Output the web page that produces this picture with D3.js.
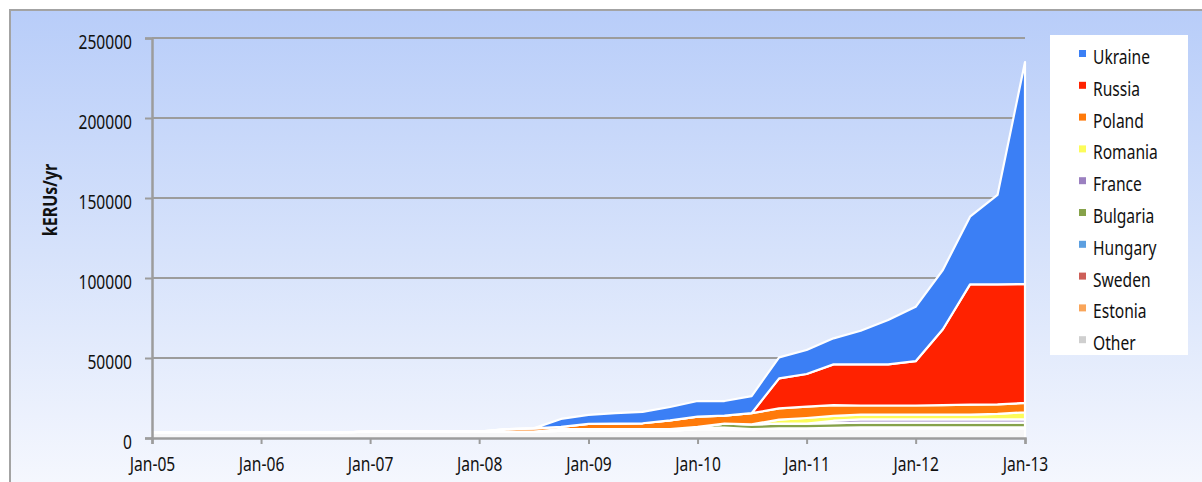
<!DOCTYPE html>
<html>
<head>
<meta charset="utf-8">
<script src="https://cdn.jsdelivr.net/npm/d3@7"></script>
<style>
  body { margin: 0; background: #fff; }
  text { font-family: "Noto Sans", "Open Sans", sans-serif; fill: #111; }
</style>
</head>
<body>
<div id="chart"></div>
<script>
// quarterly points, Jan-05 .. Jan-13 (kERUs/yr)
var yearLabels = ["Jan-05","Jan-06","Jan-07","Jan-08","Jan-09","Jan-10","Jan-11","Jan-12","Jan-13"];
var yTicks = [0, 50000, 100000, 150000, 200000, 250000];

var other    = [3500,3500,3500,3500,3500,3500,3500,3500,4000,4000,4000,4000,4000,4000,4000,4500,4500,4500,4500,4500,5500,5500,5500,6000,6000,6000,6000,6000,6000,6000,6000,6000,6000];
var estonia  = [0,0,0,0,0,0,0,0,0,0,0,0,0,0,0,0,0,0,0,0,0,0,0,0,0,300,300,300,300,300,300,300,300];
var sweden   = [0,0,0,0,0,0,0,0,0,0,0,0,0,0,0,0,0,0,0,0,0,0,0,0,0,0,300,300,300,300,300,300,300];
var hungary  = [0,0,0,0,0,0,0,0,0,0,0,0,0,0,0,1000,1000,1000,1000,1000,1000,1000,0,0,0,0,0,0,0,0,0,0,0];
var bulgaria = [0,0,0,0,0,0,0,0,0,0,0,0,0,0,0,0,0,0,0,0,500,2500,3000,3000,3000,3000,3000,3000,3000,3000,3000,3000,3000];
var france   = [0,0,0,0,0,0,0,0,0,0,0,0,0,0,0,0,0,0,0,0,0,0,0,0,0,1500,2000,2000,2000,2000,2000,2000,2000];
var romania  = [0,0,0,0,0,0,0,0,0,0,0,0,0,0,0,0,0,0,0,0,0,0,0,2500,3500,3000,3000,3000,3000,3000,3000,3500,4500];
var poland   = [0,0,0,0,0,0,0,0,0,0,0,0,0,1500,2000,1500,3300,3500,3700,5500,6400,5000,7000,7000,7100,6700,5700,5700,5700,5900,6200,5900,5800];
var russia   = [0,0,0,0,0,0,0,0,0,0,0,0,0,0,0,0,0,0,0,0,0,0,0,18800,20400,25500,25700,25700,27700,47500,75200,75000,74300];
var ukraine  = [0,0,0,0,0,0,0,0,0,0,0,0,0,0,0,4900,5700,6600,7100,8400,9700,9100,10700,13100,15000,16300,21000,27700,34000,37000,42300,55900,138800];

var legendNames = ["Ukraine","Russia","Poland","Romania","France","Bulgaria","Hungary","Sweden","Estonia","Other"];
var legendColors = ["#3b7ff5","#ff2200","#ff7a0a","#fcfc5a","#9b80c0","#86a24a","#5c9fe0","#cd5f58","#f9a55a","#cfcfcf"];

var series = { Ukraine: ukraine, Russia: russia, Poland: poland, Romania: romania, France: france,
               Bulgaria: bulgaria, Hungary: hungary, Sweden: sweden, Estonia: estonia, Other: other };

// stacked bottom -> top (reverse of legend)
var keys = legendNames.slice().reverse();
var rows = ukraine.map(function(d, i) {
    var r = { date: new Date(2005, i * 3, 1) };
    keys.forEach(function(k) { r[k] = series[k][i]; });
    return r;
});

var W = 1202, H = 482;
var SX = 0.8; // squeeze glyphs to look like the condensed original font
var FS = "19.5px";
var svg = d3.select("#chart").append("svg")
    .attr("width", W)
    .attr("height", H);

// background panel
var defs = svg.append("defs");
var grad = defs.append("linearGradient")
    .attr("id", "bg")
    .attr("x1", 0).attr("y1", 0).attr("x2", 0).attr("y2", 1);
grad.append("stop").attr("offset", "0%").attr("stop-color", "#b8cdf9");
grad.append("stop").attr("offset", "50%").attr("stop-color", "#d6e2fb");
grad.append("stop").attr("offset", "100%").attr("stop-color", "#f6f8fe");

svg.append("rect")
    .attr("x", 10).attr("y", 10)
    .attr("width", W).attr("height", H)
    .attr("fill", "url(#bg)")
    .attr("stroke", "#a3a3a3")
    .attr("stroke-width", 2);

var x = d3.scaleTime()
    .domain([new Date(2005, 0, 1), new Date(2013, 0, 1)])
    .range([152, 1025]);
var y = d3.scaleLinear()
    .domain([0, 250000])
    .range([438, 38]);

// gridlines
svg.append("g")
  .selectAll("line")
  .data(yTicks.slice(1))
  .enter().append("line")
    .attr("x1", x.range()[0]).attr("x2", x.range()[1])
    .attr("y1", function(d) { return y(d); })
    .attr("y2", function(d) { return y(d); })
    .attr("stroke", "#9c9c9c")
    .attr("stroke-width", 2);

// stacked areas
var stack = d3.stack().keys(keys);
var layers = stack(rows);
var area = d3.area()
    .x(function(d) { return x(d.data.date); })
    .y0(function(d) { return y(d[0]); })
    .y1(function(d) { return y(d[1]); });

var color = d3.scaleOrdinal().domain(legendNames).range(legendColors);

svg.append("g")
  .selectAll("path")
  .data(layers)
  .enter().append("path")
    .attr("d", area)
    .attr("fill", function(d) { return d.key === "Other" ? "#f7f7f8" : color(d.key); })
    .attr("stroke", "#ffffff")
    .attr("stroke-width", 2.2)
    .attr("stroke-linejoin", "round");

// y axis
var yAxis = svg.append("g")
    .attr("transform", "translate(152,0)")
    .call(d3.axisLeft(y).tickValues(yTicks).tickSize(7).tickPadding(13).tickFormat(d3.format("d")));
yAxis.select(".domain").attr("stroke", "#9c9c9c").attr("stroke-width", 2.5);
yAxis.selectAll(".tick line").attr("stroke", "#9c9c9c").attr("stroke-width", 2);
yAxis.selectAll(".tick text")
    .style("font-size", FS)
    .attr("fill", "#111")
    .attr("x", -20 / SX)
    .attr("dy", "0.52em")
    .attr("transform", "scale(" + SX + ",1)");

// x axis
var xAxis = svg.append("g")
    .attr("transform", "translate(0,438)")
    .call(d3.axisBottom(x)
        .tickValues(yearLabels.map(function(d, i) { return new Date(2005 + i, 0, 1); }))
        .tickSize(6).tickPadding(13)
        .tickFormat(function(d, i) { return yearLabels[i]; }));
xAxis.select(".domain").attr("stroke", "#9c9c9c").attr("stroke-width", 2.5);
xAxis.selectAll(".tick line").attr("stroke", "#9c9c9c").attr("stroke-width", 2);
xAxis.selectAll(".tick text")
    .style("font-size", FS)
    .attr("fill", "#111")
    .attr("transform", "scale(" + SX + ",1)");

// y title
svg.append("text")
    .attr("transform", "translate(57,200) rotate(-90) scale(" + SX + ",1)")
    .attr("text-anchor", "middle")
    .style("font-size", "20px")
    .style("font-weight", "bold")
    .text("kERUs/yr");

// legend
var legend = svg.append("g");
legend.append("rect")
    .attr("x", 1050).attr("y", 35)
    .attr("width", 138).attr("height", 320)
    .attr("fill", "#ffffff");

var items = legend.selectAll("g.item")
    .data(legendNames)
    .enter().append("g")
    .attr("class", "item")
    .attr("transform", function(d, i) { return "translate(1079," + (64 + i * 31.8) + ")"; });
items.append("rect")
    .attr("x", 0).attr("y", -14)
    .attr("width", 7).attr("height", 7)
    .attr("fill", function(d) { return color(d); });
items.append("text")
    .attr("transform", "translate(14,0) scale(" + SX + ",1)")
    .style("font-size", FS)
    .text(function(d) { return d; });
</script>
</body>
</html>
